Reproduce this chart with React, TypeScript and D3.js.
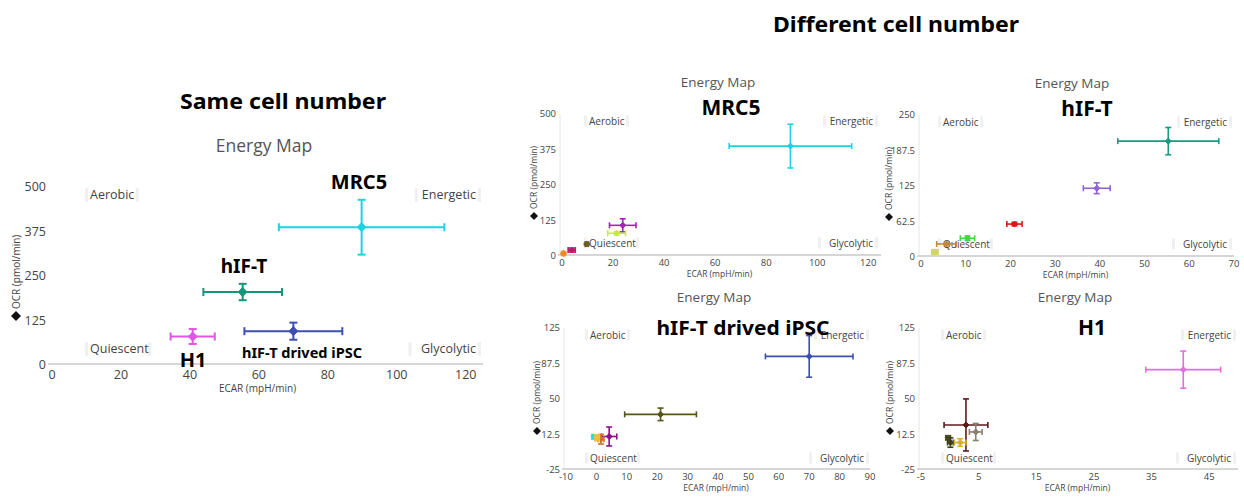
import React from "react";
import * as d3 from "d3";

// ---------- DATA ----------
// Same cell number (left panel)
const sameLabels = ["MRC5", "hIF-T", "hIF-T drived iPSC", "H1"];
const sameEcar = [89.8, 55.3, 70.0, 40.8];
const sameEcarErr = [24.0, 11.4, 14.2, 6.4];
const sameOcr = [387, 205, 95, 80];
const sameOcrErr = [77, 23, 24, 21];

// Different cell number: MRC5
const mrc5Ecar = [89.5, 23.8, 21.4, 9.7, 3.8, 0.6];
const mrc5EcarErr = [24, 5.2, 3.5, 0.6, 1.4, 0.5];
const mrc5Ocr = [387, 108, 80, 42, 21, 9];
const mrc5OcrErr = [77, 23, 6, 3, 7, 4];

// Different cell number: hIF-T
const hiftEcar = [55.3, 39.3, 20.9, 10.4, 5.7, 3.1];
const hiftEcarErr = [11.3, 3.0, 1.7, 1.6, 2.2, 0.7];
const hiftOcr = [204, 121, 58, 33, 23, 9];
const hiftOcrErr = [24, 9.5, 3, 4, 2.5, 4];

// Different cell number: hIF-T drived iPSC
const ipscEcar = [70, 21.1, 4.2, 1.5, -0.8, 0.2];
const ipscEcarErr = [14.4, 11.8, 2.5, 1.0, 0.6, 0.7];
const ipscOcr = [95, 33.8, 10.4, 7.5, 10, 9];
const ipscOcrErr = [22, 6.6, 10, 5, 2, 3];

// Different cell number: H1
const h1Ecar = [40.5, 2.8, 4.5, -0.3, 0.1, 1.8];
const h1EcarErr = [6.5, 3.8, 1.1, 0.4, 0.5, 1.0];
const h1Ocr = [81, 22.6, 15.2, 9, 4, 4];
const h1OcrErr = [19.6, 27.5, 9, 2, 5, 4];

// tick values
const ticksX120 = [0, 20, 40, 60, 80, 100, 120];
const ticksY500 = [0, 125, 250, 375, 500];
const ticksX70 = [0, 10, 20, 30, 40, 50, 60, 70];
const ticksY250 = [0, 62.5, 125, 187.5, 250];
const ticksX90 = [-10, 0, 10, 20, 30, 40, 50, 60, 70, 80, 90];
const ticksY125 = [-25, 12.5, 50, 87.5, 125];
const ticksX45 = [-5, 5, 15, 25, 35, 45];

// colours (styles)
const sameColors = ["#1ed2e6", "#17957a", "#3d4fb5", "#e055e4"];
const mrc5Colors = ["#1ed2e6", "#a81fc0", "#c4ec3c", "#6b5d2a", "#c0166e", "#f08a20"];
const hiftColors = ["#1a9a80", "#9262d8", "#e01414", "#3fd83f", "#c08a3a", "#d0d860"];
const ipscColors = ["#3a4fb0", "#55551a", "#8e0f8e", "#d0702a", "#22e0e0", "#eec040"];
const h1Colors = ["#e070e0", "#5c1a1a", "#8a8070", "#4a4a25", "#3f3f1c", "#d8b030"];

const FONT = "'Open Sans', 'Noto Sans', sans-serif";

type Cfg = {
  xDomain: [number, number];
  xRange: [number, number];
  yDomain: [number, number];
  yRange: [number, number];
  xTicks: number[];
  yTicks: number[];
  ecar: number[];
  ecarErr: number[];
  ocr: number[];
  ocrErr: number[];
  colors: string[];
  small: boolean;
  title: [number, number];
  xTitleY: number;
  yTitle: [number, number];
  quad: { l: number; r: number; t: number; b: number };
  showYAxis: boolean;
};

function fmt(v: number) {
  return String(v);
}

function Panel({ c }: { c: Cfg }) {
  const x = d3.scaleLinear().domain(c.xDomain).range(c.xRange);
  const y = d3.scaleLinear().domain(c.yDomain).range(c.yRange);
  const s = c.small;
  const tickFs = s ? 9.5 : 12.5;
  const quadFs = s ? 10 : 12.5;
  const cap = s ? 3 : 4;
  const sw = s ? 1.6 : 2;
  const r = s ? 3 : 4.5;
  const axisY = c.yRange[0];
  const diamond = (cx: number, cy: number, rr: number) =>
    `M${cx},${cy - rr}L${cx + rr},${cy}L${cx},${cy + rr}L${cx - rr},${cy}Z`;
  const qlab = (txt: string, px: number, py: number, anchor: "start" | "end") => {
    const w = txt.length * quadFs * 0.5;
    const x0 = anchor === "start" ? px : px - w;
    return (
      <g key={txt}>
        <rect x={x0 - 5} y={py - quadFs * 0.55} width={3} height={quadFs * 1.1} fill="#f0f0f0" />
        <rect x={x0 + w + 2} y={py - quadFs * 0.55} width={3} height={quadFs * 1.1} fill="#f0f0f0" />
        <text x={px} y={py} dy="0.35em" textAnchor={anchor} fontSize={quadFs} fill="#444" fontFamily={FONT}>
          {txt}
        </text>
      </g>
    );
  };
  return (
    <g>
      <text x={c.title[0]} y={c.title[1]} textAnchor="middle" fontSize={s ? 13.5 : 17.5} fill="#555" fontFamily={FONT}>
        Energy Map
      </text>
      {c.showYAxis && (
        <line x1={c.xRange[0] - 2} x2={c.xRange[0] - 2} y1={c.yRange[1]} y2={axisY} stroke="#e6e6e6" strokeWidth={1} />
      )}
      <line x1={c.xRange[0] - 4} x2={c.xRange[1]} y1={axisY - 1} y2={axisY - 1} stroke="#d6d6d6" strokeWidth={2} />
      {c.yTicks.map((t) => (
        <text key={"y" + t} x={c.xRange[0] - 6} y={y(t)} dy="0.35em" textAnchor="end" fontSize={tickFs} fill="#444" fontFamily={FONT}>
          {fmt(t)}
        </text>
      ))}
      {c.xTicks.map((t) => (
        <text key={"x" + t} x={x(t)} y={axisY + (s ? 7 : 10)} dy="0.35em" textAnchor="middle" fontSize={tickFs} fill="#444" fontFamily={FONT}>
          {fmt(t)}
        </text>
      ))}
      <text x={(c.xRange[0] + c.xRange[1]) / 2 - (s ? 2 : 10)} y={c.xTitleY} textAnchor="middle" fontSize={s ? 8.5 : 10} fill="#444" fontFamily={FONT}>
        ECAR (mpH/min)
      </text>
      <path d={diamond(c.yTitle[0], c.yTitle[1], s ? 4 : 5)} fill="#111" />
      <text
        transform={`translate(${c.yTitle[0] + (s ? 3 : 3.5)},${c.yTitle[1] - 7}) rotate(-90)`}
        fontSize={s ? 8.5 : 10}
        fill="#444"
        fontFamily={FONT}
      >
        OCR (pmol/min)
      </text>
      {qlab("Aerobic", c.quad.l, c.quad.t, "start")}
      {qlab("Quiescent", c.quad.l, c.quad.b, "start")}
      {qlab("Energetic", c.quad.r, c.quad.t, "end")}
      {qlab("Glycolytic", c.quad.r, c.quad.b, "end")}
      {c.ecar.map((e, i) => {
        const cx = x(e);
        const cy = y(c.ocr[i]);
        const x1 = x(e - c.ecarErr[i]);
        const x2 = x(e + c.ecarErr[i]);
        const y1 = y(c.ocr[i] + c.ocrErr[i]);
        const y2 = y(c.ocr[i] - c.ocrErr[i]);
        const col = c.colors[i];
        return (
          <g key={i} stroke={col} strokeWidth={sw} fill="none">
            <line x1={x1} x2={x2} y1={cy} y2={cy} />
            <line x1={cx} x2={cx} y1={y1} y2={y2} />
            <line x1={x1} x2={x1} y1={cy - cap} y2={cy + cap} />
            <line x1={x2} x2={x2} y1={cy - cap} y2={cy + cap} />
            <line x1={cx - cap} x2={cx + cap} y1={y1} y2={y1} />
            <line x1={cx - cap} x2={cx + cap} y1={y2} y2={y2} />
            <path d={diamond(cx, cy, r)} fill={col} stroke={col} strokeWidth={1} />
          </g>
        );
      })}
    </g>
  );
}

const leftCfg: Cfg = {
  xDomain: [0, 125], xRange: [52, 483], yDomain: [0, 500], yRange: [365, 187],
  xTicks: ticksX120, yTicks: ticksY500,
  ecar: sameEcar, ecarErr: sameEcarErr, ocr: sameOcr, ocrErr: sameOcrErr, colors: sameColors,
  small: false, title: [264, 152], xTitleY: 392, yTitle: [16, 316],
  quad: { l: 90, r: 476, t: 195, b: 349 }, showYAxis: false,
};
const mrc5Cfg: Cfg = {
  xDomain: [0, 125], xRange: [562, 881], yDomain: [0, 500], yRange: [256, 114],
  xTicks: ticksX120, yTicks: ticksY500,
  ecar: mrc5Ecar, ecarErr: mrc5EcarErr, ocr: mrc5Ocr, ocrErr: mrc5OcrErr, colors: mrc5Colors,
  small: true, title: [718, 86.5], xTitleY: 277, yTitle: [534, 216],
  quad: { l: 589, r: 873, t: 121, b: 243 }, showYAxis: true,
};
const hiftCfg: Cfg = {
  xDomain: [0, 70], xRange: [921, 1234], yDomain: [0, 250], yRange: [257, 115],
  xTicks: ticksX70, yTicks: ticksY250,
  ecar: hiftEcar, ecarErr: hiftEcarErr, ocr: hiftOcr, ocrErr: hiftOcrErr, colors: hiftColors,
  small: true, title: [1072, 88], xTitleY: 278, yTitle: [889, 217],
  quad: { l: 943, r: 1227, t: 122, b: 244 }, showYAxis: true,
};
const ipscCfg: Cfg = {
  xDomain: [-10, 90], xRange: [566, 870], yDomain: [-25, 125], yRange: [470, 328],
  xTicks: ticksX90, yTicks: ticksY125,
  ecar: ipscEcar, ecarErr: ipscEcarErr, ocr: ipscOcr, ocrErr: ipscOcrErr, colors: ipscColors,
  small: true, title: [714, 301.5], xTitleY: 491, yTitle: [537, 431],
  quad: { l: 590, r: 864, t: 335, b: 458 }, showYAxis: true,
};
const h1Cfg: Cfg = {
  xDomain: [-5, 50], xRange: [921, 1238], yDomain: [-25, 125], yRange: [470, 328],
  xTicks: ticksX45, yTicks: ticksY125,
  ecar: h1Ecar, ecarErr: h1EcarErr, ocr: h1Ocr, ocrErr: h1OcrErr, colors: h1Colors,
  small: true, title: [1075, 301.5], xTitleY: 491, yTitle: [890, 431],
  quad: { l: 946, r: 1231, t: 335, b: 458 }, showYAxis: true,
};

const BOLD = "'Noto Sans', 'Open Sans', sans-serif";

function Bold({ x, y, size, len, children }: { x: number; y: number; size: number; len?: number; children: React.ReactNode }) {
  return (
    <text
      x={x}
      y={y}
      textAnchor="middle"
      fontSize={size}
      fontWeight="bold"
      fill="#000"
      fontFamily={BOLD}
      textLength={len}
      lengthAdjust={len ? "spacingAndGlyphs" : undefined}
    >
      {children}
    </text>
  );
}

export default function App() {
  return (
    <div style={{ position: "absolute", left: 0, top: 0 }}>
      <svg width={1244} height={502} style={{ display: "block", background: "#fff" }}>
        <Panel c={leftCfg} />
        <Panel c={mrc5Cfg} />
        <Panel c={hiftCfg} />
        <Panel c={ipscCfg} />
        <Panel c={h1Cfg} />
        <Bold x={283} y={109} size={21} len={206}>Same cell number</Bold>
        <Bold x={896} y={32} size={21} len={246}>Different cell number</Bold>
        <Bold x={359} y={189} size={20}>{sameLabels[0]}</Bold>
        <Bold x={244} y={273} size={19}>{sameLabels[1]}</Bold>
        <Bold x={302} y={358} size={15} len={120}>{sameLabels[2]}</Bold>
        <Bold x={193} y={367} size={20}>{sameLabels[3]}</Bold>
        <Bold x={731} y={115} size={21}>{sameLabels[0]}</Bold>
        <Bold x={1087} y={116} size={21}>{sameLabels[1]}</Bold>
        <Bold x={743} y={335} size={20} len={173}>{sameLabels[2]}</Bold>
        <Bold x={1092} y={335} size={21}>{sameLabels[3]}</Bold>
      </svg>
    </div>
  );
}
